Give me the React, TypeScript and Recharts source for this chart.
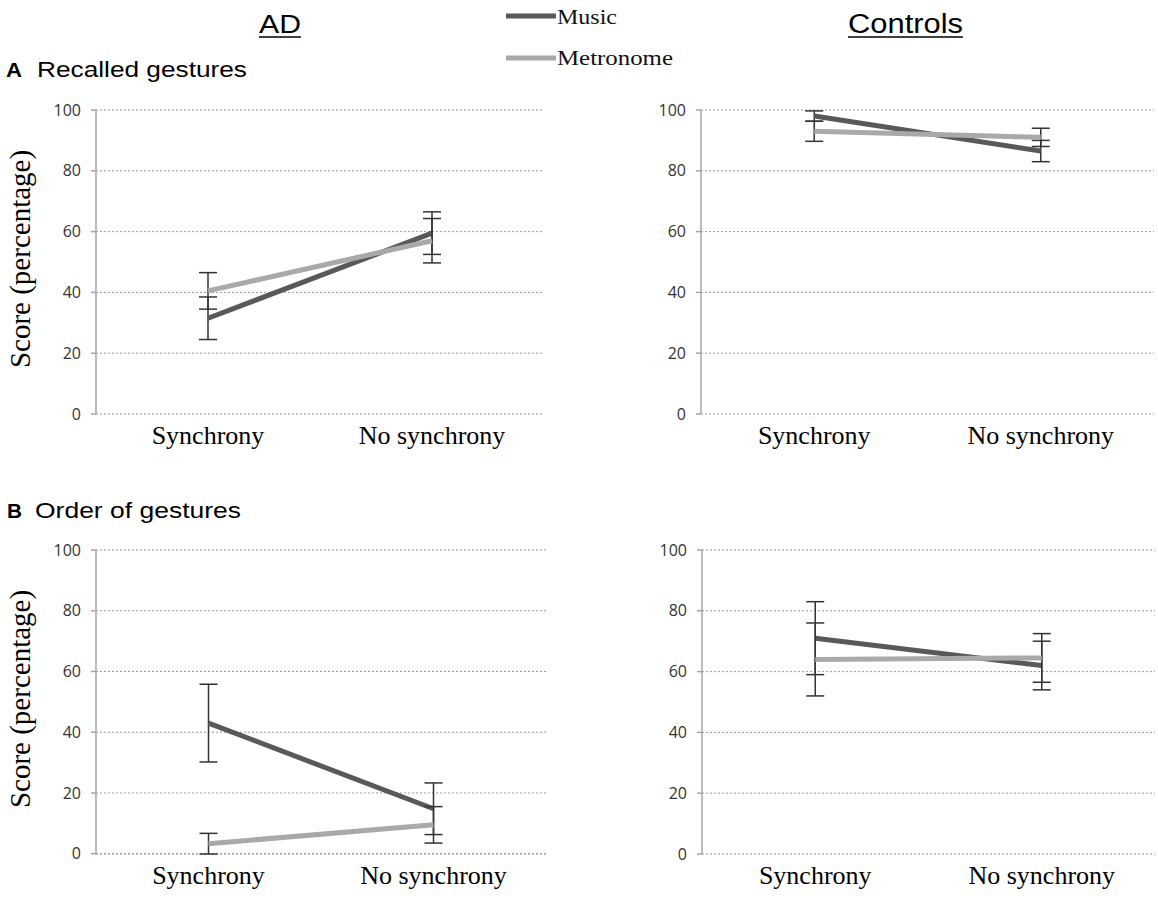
import { CartesianGrid, ErrorBar, Line, LineChart, XAxis, YAxis } from "recharts";

const conditions = ["Synchrony", "No synchrony"];
const yTicks = [0, 20, 40, 60, 80, 100];
const frameTicks = [0, 1, 2];

// A - recalled gestures
const adRecallMusic = [31.5, 59.5];
const adRecallMusicErr = [7, 7];
const adRecallMetro = [40.5, 57];
const adRecallMetroErr = [6, 7.3];
const ctlRecallMusic = [98, 86.5];
const ctlRecallMusicErr = [1.7, 3.5];
const ctlRecallMetro = [93, 91];
const ctlRecallMetroErr = [3.3, 3];

// B - order of gestures
const adOrderMusic = [43, 14.8];
const adOrderMusicErr = [12.8, 8.5];
const adOrderMetro = [3.3, 9.5];
const adOrderMetroErr = [3.4, 6];
const ctlOrderMusic = [71, 62];
const ctlOrderMusicErr = [12, 8];
const ctlOrderMetro = [64, 64.5];
const ctlOrderMetroErr = [12, 8];

type Row = {
  cond: string;
  music: number;
  musicErr: number;
  metro: number;
  metroErr: number;
};

function rows(music: number[], musicErr: number[], metro: number[], metroErr: number[]): Row[] {
  return conditions.map((cond, i) => ({
    cond,
    music: music[i],
    musicErr: musicErr[i],
    metro: metro[i],
    metroErr: metroErr[i],
  }));
}

const MUSIC = "#595959";
const METRO = "#a9a9a9";
const AXIS = "#a6a6a6";
const PLOT_H = 304;
const TOP_PAD = 10;
const RIGHT_PAD = 4;
const X_AXIS_H = 50;
const SERIF = "'Liberation Serif', 'Times New Roman', serif";
const SANS = "'Liberation Sans', Arial, sans-serif";

function YLabel({ viewBox }: any) {
  const cx = viewBox.x + 30;
  const cy = viewBox.y + viewBox.height / 2 - 3;
  return (
    <text
      x={cx}
      y={cy}
      transform={`rotate(-90 ${cx} ${cy})`}
      textAnchor="middle"
      fontFamily={SERIF}
      fontSize={29}
      fill="#000"
    >
      Score (percentage)
    </text>
  );
}

type PanelProps = {
  data: Row[];
  plotLeft: number;
  plotTop: number;
  plotWidth: number;
  yLabel?: boolean;
};

function Panel({ data, plotLeft, plotTop, plotWidth, yLabel }: PanelProps) {
  const axisW = yLabel ? plotLeft : 60;
  const pad = plotWidth / 4;
  return (
    <div style={{ position: "absolute", left: plotLeft - axisW, top: plotTop - TOP_PAD }}>
      <LineChart
        width={axisW + plotWidth + RIGHT_PAD}
        height={TOP_PAD + PLOT_H + X_AXIS_H}
        data={data}
        margin={{ top: TOP_PAD, right: RIGHT_PAD, bottom: 0, left: 0 }}
      >
        <CartesianGrid xAxisId="cat" vertical={false} stroke="#999" strokeDasharray="2 2" />
        <XAxis
          xAxisId="frame"
          type="number"
          domain={[0, 2]}
          ticks={frameTicks}
          height={0}
          tick={false}
          tickSize={6}
          stroke={AXIS}
          strokeWidth={1.5}
        />
        <XAxis
          xAxisId="cat"
          dataKey="cond"
          padding={{ left: pad, right: pad }}
          axisLine={false}
          tickLine={false}
          tickSize={0}
          tickMargin={12}
          height={X_AXIS_H}
          interval={0}
          tick={{ fill: "#000", fontSize: 26, fontFamily: SERIF }}
        />
        <YAxis
          domain={[0, 100]}
          ticks={yTicks}
          width={axisW}
          tickSize={5}
          tickMargin={10}
          stroke={AXIS}
          strokeWidth={1.5}
          tick={{ fill: "#333", fontSize: 16, fontFamily: "'Open Sans', sans-serif" }}
          label={yLabel ? <YLabel /> : undefined}
        />
        <Line
          xAxisId="cat"
          dataKey="music"
          stroke={MUSIC}
          strokeWidth={5}
          dot={false}
          isAnimationActive={false}
        >
          <ErrorBar dataKey="musicErr" width={9} strokeWidth={1.5} stroke="#333" direction="y" />
        </Line>
        <Line
          xAxisId="cat"
          dataKey="metro"
          stroke={METRO}
          strokeWidth={5}
          dot={false}
          isAnimationActive={false}
        >
          <ErrorBar dataKey="metroErr" width={9} strokeWidth={1.5} stroke="#333" direction="y" />
        </Line>
      </LineChart>
    </div>
  );
}

export default function App() {
  return (
    <div
      style={{
        position: "absolute",
        left: 0,
        top: 0,
        width: 1158,
        height: 898,
        background: "#fff",
      }}
    >
      <svg width={1158} height={898} style={{ position: "absolute", left: 0, top: 0 }}>
        <text x={259} y={33} fontFamily={SANS} fontSize={26} textLength={42} lengthAdjust="spacingAndGlyphs">
          AD
        </text>
        <line x1={259} x2={301} y1={37} y2={37} stroke="#000" strokeWidth={1.5} />
        <text x={848} y={33} fontFamily={SANS} fontSize={27} textLength={115} lengthAdjust="spacingAndGlyphs">
          Controls
        </text>
        <line x1={848} x2={963} y1={37} y2={37} stroke="#000" strokeWidth={1.5} />

        <text x={6} y={77} fontFamily={SANS} fontSize={21} fontWeight="bold" textLength={16} lengthAdjust="spacingAndGlyphs">A</text>
        <text x={37} y={77} fontFamily={SANS} fontSize={22} textLength={210} lengthAdjust="spacingAndGlyphs">
          Recalled gestures
        </text>
        <text x={7} y={518} fontFamily={SANS} fontSize={21} fontWeight="bold" textLength={15} lengthAdjust="spacingAndGlyphs">B</text>
        <text x={35} y={518} fontFamily={SANS} fontSize={22} textLength={206} lengthAdjust="spacingAndGlyphs">
          Order of gestures
        </text>

        <line x1={506} x2={556} y1={16} y2={16} stroke={MUSIC} strokeWidth={5} />
        <text x={557} y={24} fontFamily={SERIF} fontSize={21} textLength={60} lengthAdjust="spacingAndGlyphs" fill="#111">
          Music
        </text>
        <line x1={506} x2={556} y1={58} y2={58} stroke={METRO} strokeWidth={5} />
        <text x={557} y={65} fontFamily={SERIF} fontSize={21} textLength={116} lengthAdjust="spacingAndGlyphs" fill="#111">
          Metronome
        </text>
      </svg>

      <Panel
        data={rows(adRecallMusic, adRecallMusicErr, adRecallMetro, adRecallMetroErr)}
        plotLeft={96}
        plotTop={110}
        plotWidth={448}
        yLabel
      />
      <Panel
        data={rows(ctlRecallMusic, ctlRecallMusicErr, ctlRecallMetro, ctlRecallMetroErr)}
        plotLeft={701}
        plotTop={110}
        plotWidth={453}
      />
      <Panel
        data={rows(adOrderMusic, adOrderMusicErr, adOrderMetro, adOrderMetroErr)}
        plotLeft={96}
        plotTop={550}
        plotWidth={450}
        yLabel
      />
      <Panel
        data={rows(ctlOrderMusic, ctlOrderMusicErr, ctlOrderMetro, ctlOrderMetroErr)}
        plotLeft={702}
        plotTop={550}
        plotWidth={453}
      />
    </div>
  );
}
